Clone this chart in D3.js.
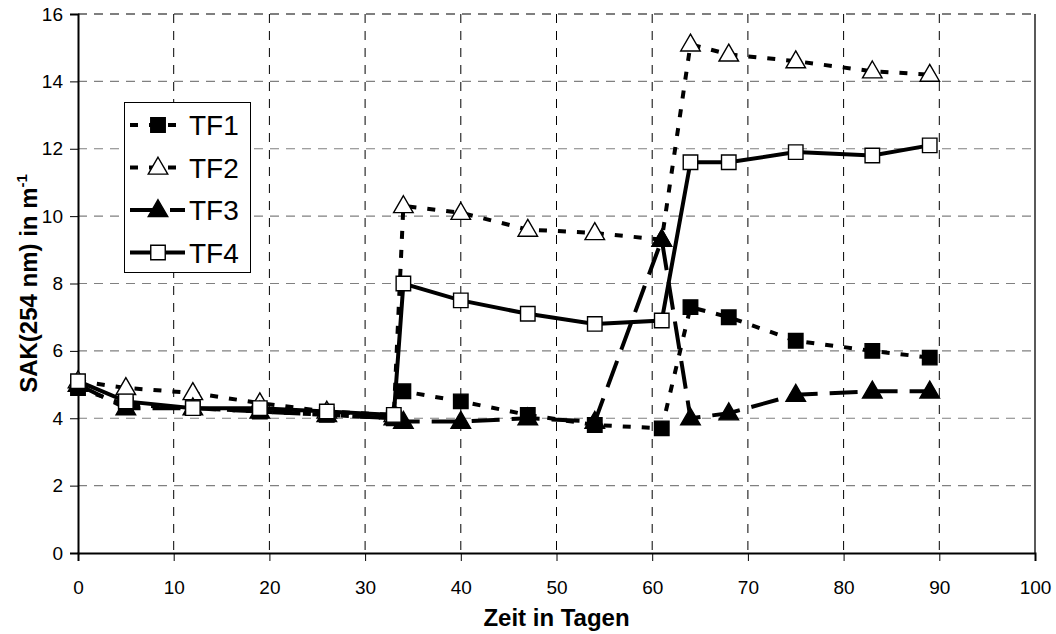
<!DOCTYPE html>
<html>

<head>
    <meta charset="utf-8">
    <title>SAK(254 nm)</title>
    <script src="https://d3js.org/d3.v7.min.js"></script>
    <style>
        body { margin: 0; background: #fff; }
        text { font-family: "Liberation Sans", Arial, sans-serif; fill: #000; }
    </style>
</head>

<body>
    <svg width="1056" height="634"></svg>
    <script>
        // Zeit in Tagen
        const tage = [0, 5, 12, 19, 26, 33, 34, 40, 47, 54, 61, 64, 68, 75, 83, 89];

        // SAK(254 nm) in 1/m
        const tf1 = [4.9, 4.4, 4.3, 4.2, 4.1, 4.0, 4.8, 4.5, 4.1, 3.8, 3.7, 7.3, 7.0, 6.3, 6.0, 5.8];
        const tf2 = [5.1, 4.9, 4.75, 4.45, 4.2, 4.1, 10.3, 10.1, 9.6, 9.5, 9.3, 15.1, 14.8, 14.6, 14.3, 14.2];
        const tf3 = [5.0, 4.3, 4.3, 4.2, 4.1, 4.0, 3.9, 3.9, 4.0, 3.9, 9.3, 4.0, 4.15, 4.7, 4.8, 4.8];
        const tf4 = [5.1, 4.5, 4.3, 4.3, 4.2, 4.1, 8.0, 7.5, 7.1, 6.8, 6.9, 11.6, 11.6, 11.9, 11.8, 12.1];

        const xTicks = [0, 10, 20, 30, 40, 50, 60, 70, 80, 90, 100];
        const yTicks = [0, 2, 4, 6, 8, 10, 12, 14, 16];

        const series = [
            { name: "TF1", values: tf1, dash: "8,11", marker: "square", fill: "#000" },
            { name: "TF2", values: tf2, dash: "8,11", marker: "triangle", fill: "#fff" },
            { name: "TF3", values: tf3, dash: "28,12", marker: "triangle", fill: "#000" },
            { name: "TF4", values: tf4, dash: null, marker: "square", fill: "#fff" }
        ];

        const svg = d3.select("svg");
        const pL = 78, pR = 1035, pT = 14, pB = 553;

        const x = d3.scaleLinear().domain([0, 100]).range([pL, pR]);
        const y = d3.scaleLinear().domain([0, 16]).range([pB, pT]);

        // grid
        const grid = svg.append("g");
        grid.selectAll("line.h")
            .data(yTicks.filter(d => d > 0))
            .join("line")
            .attr("x1", pL).attr("x2", pR)
            .attr("y1", d => y(d)).attr("y2", d => y(d))
            .attr("stroke", d => d === 16 ? "#000" : "#808080")
            .attr("stroke-width", 1.2)
            .attr("stroke-dasharray", "9,7");
        grid.selectAll("line.v")
            .data(xTicks.filter(d => d > 0 && d < 100))
            .join("line")
            .attr("x1", d => x(d)).attr("x2", d => x(d))
            .attr("y1", pT).attr("y2", pB)
            .attr("stroke", "#000")
            .attr("stroke-width", 1)
            .attr("stroke-dasharray", "9,8");

        // right border
        svg.append("line")
            .attr("x1", pR).attr("x2", pR)
            .attr("y1", pT).attr("y2", pB)
            .attr("stroke", "#000").attr("stroke-width", 1.3);

        // axes
        const xAxis = svg.append("g")
            .attr("transform", `translate(0,${pB})`)
            .call(d3.axisBottom(x).tickValues(xTicks).tickSize(8).tickPadding(20));
        const yAxis = svg.append("g")
            .attr("transform", `translate(${pL},0)`)
            .call(d3.axisLeft(y).tickValues(yTicks).tickSize(8).tickPadding(7));
        [xAxis, yAxis].forEach(a => {
            a.select(".domain").attr("stroke", "#000").attr("stroke-width", 2);
            a.selectAll(".tick line").attr("stroke", "#000").attr("stroke-width", 1);
            a.selectAll(".tick text").attr("font-size", 19).attr("font-family", "Liberation Sans, Arial, sans-serif");
        });

        // markers
        const sym = {
            square: d3.symbol().type(d3.symbolSquare).size(210),
            triangle: d3.symbol().type(d3.symbolTriangle).size(165)
        };

        function drawMarker(g, s, cx, cy) {
            g.append("path")
                .attr("d", sym[s.marker]())
                .attr("transform", `translate(${cx},${cy + (s.marker === "triangle" ? 1 : 0)})`)
                .attr("fill", s.fill)
                .attr("stroke", "#000")
                .attr("stroke-width", 1.4);
        }

        const line = d3.line().x(d => x(d[0])).y(d => y(d[1]));

        series.forEach(s => {
            const pts = tage.map((t, i) => [t, s.values[i]]);
            const g = svg.append("g");
            g.append("path")
                .datum(pts)
                .attr("d", line)
                .attr("fill", "none")
                .attr("stroke", "#000")
                .attr("stroke-width", 4)
                .attr("stroke-dasharray", s.dash);
            pts.forEach(p => drawMarker(g, s, x(p[0]), y(p[1])));
        });

        // legend
        const leg = svg.append("g");
        leg.append("rect")
            .attr("x", 124.5).attr("y", 102.5)
            .attr("width", 126).attr("height", 170)
            .attr("fill", "#fff").attr("stroke", "#000").attr("stroke-width", 1);
        series.forEach((s, i) => {
            const ly = 125 + i * 42.5;
            const row = leg.append("g");
            row.append("line")
                .attr("x1", 130).attr("x2", 185)
                .attr("y1", ly).attr("y2", ly)
                .attr("stroke", "#000").attr("stroke-width", 4)
                .attr("stroke-dasharray", s.dash);
            drawMarker(row, s, 158, ly);
            row.append("text")
                .attr("x", 189).attr("y", ly + 10)
                .attr("font-size", 28)
                .text(s.name);
        });

        // axis titles
        svg.append("text")
            .attr("x", (pL + pR) / 2).attr("y", 626)
            .attr("text-anchor", "middle")
            .attr("font-size", 24).attr("font-weight", "bold")
            .text("Zeit in Tagen");

        const yt = svg.append("text")
            .attr("transform", `translate(37,${(pT + pB) / 2}) rotate(-90)`)
            .attr("text-anchor", "middle")
            .attr("font-size", 24).attr("font-weight", "bold");
        yt.append("tspan").text("SAK(254 nm) in m");
        yt.append("tspan").attr("dy", -10).attr("font-size", 15).text("-1");
    </script>
</body>

</html>
